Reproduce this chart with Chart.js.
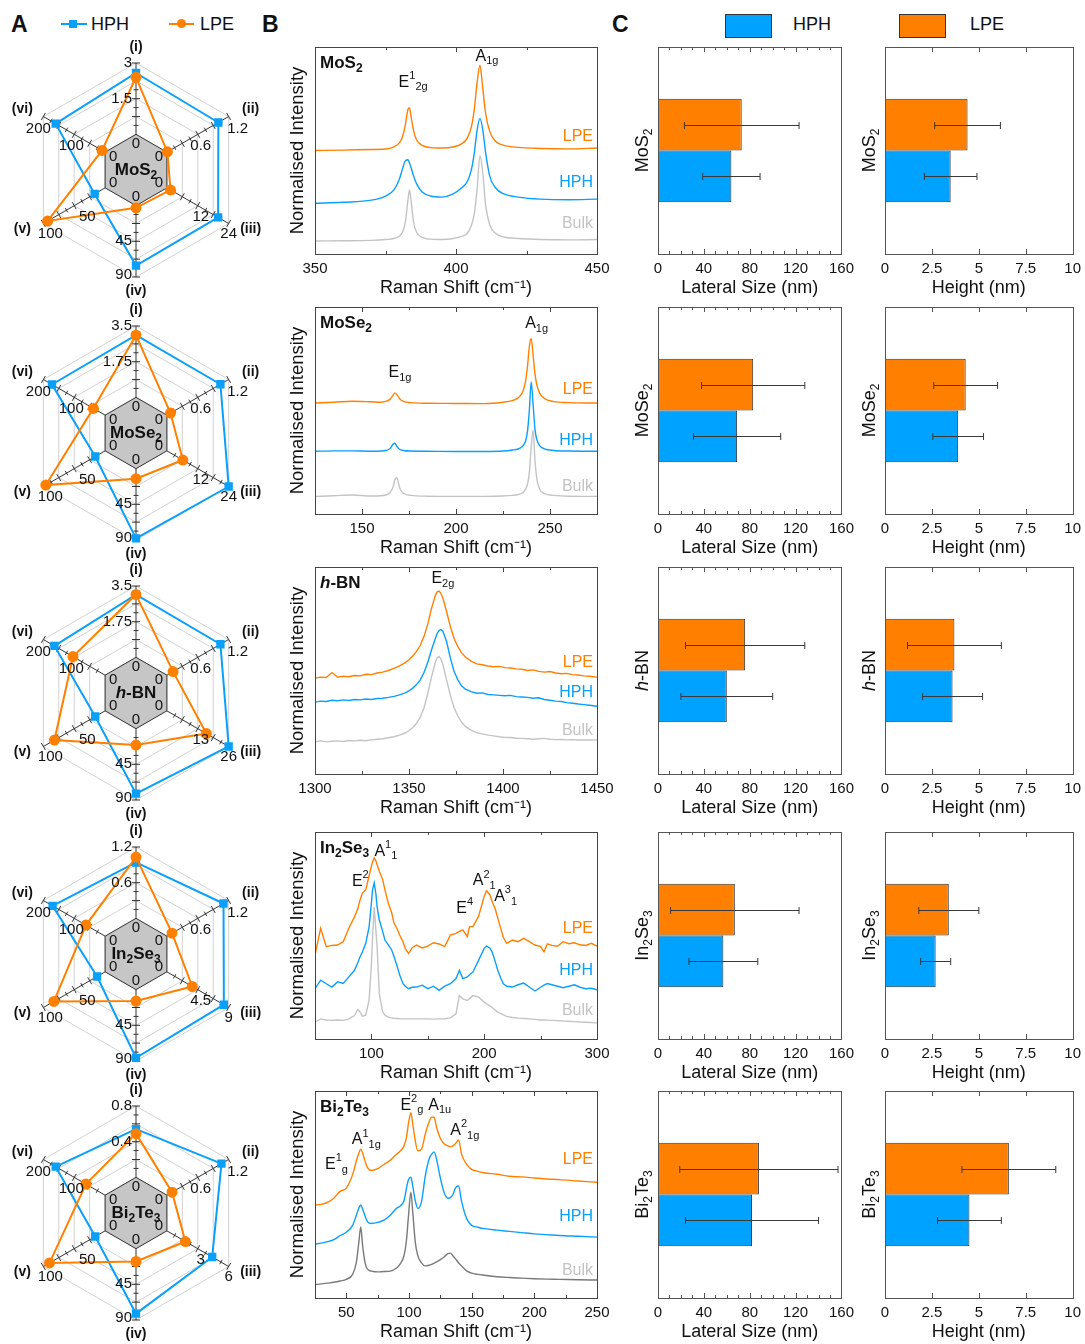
<!DOCTYPE html>
<html>
<head>
<meta charset="utf-8">
<script src="https://cdn.jsdelivr.net/npm/chart.js@4.4.1/dist/chart.umd.min.js"></script>
<style>
  body { margin: 0; background: #fff; width: 1085px; height: 1344px; position: relative; overflow: hidden;
         font-family: "Liberation Sans", Arial, sans-serif; color: #111; }
  canvas { position: absolute; }
  .letter { position: absolute; font-weight: bold; font-size: 23px; line-height: 24px; }
  .leg { position: absolute; font-size: 18px; line-height: 20px; }
  .line { position: absolute; height: 2px; }
  .mark { position: absolute; }
  .swatch { position: absolute; width: 45px; height: 22px; border: 1px solid #333; }
</style>
</head>
<body>
<div class="letter" style="left:11px;top:12px">A</div>
<div class="letter" style="left:262px;top:12px">B</div>
<div class="letter" style="left:612px;top:12px">C</div>

<div class="line" style="left:61px;top:23px;width:26px;background:#0aa0fa"></div>
<div class="mark" style="left:69px;top:20px;width:8px;height:8px;background:#0aa0fa"></div>
<div class="leg" style="left:91px;top:14px">HPH</div>
<div class="line" style="left:169px;top:23px;width:25px;background:#ff8000"></div>
<div class="mark" style="left:177px;top:19px;width:9px;height:9px;border-radius:50%;background:#ff8000"></div>
<div class="leg" style="left:200px;top:14px">LPE</div>

<div class="swatch" style="left:725px;top:14px;background:#00a2ff"></div>
<div class="leg" style="left:793px;top:14px">HPH</div>
<div class="swatch" style="left:899px;top:14px;background:#ff8000"></div>
<div class="leg" style="left:970px;top:14px">LPE</div>

<script>
// ---- panel A: radar values (raw units, axis maxima per row) ----
const radarAxes = ['(i)', '(ii)', '(iii)', '(iv)', '(v)', '(vi)']
const mos2RadarMax = [3, 1.2, 24, 90, 100, 200]
const mos2RadarHph = [2.58, 1.0, 19.9, 75.6, 17, 160]
const mos2RadarLpe = [2.4, 0.01, 1.4, 2.7, 93, 10]
const mose2RadarMax = [3.5, 1.2, 24, 90, 100, 200]
const mose2RadarHph = [3.05, 1.04, 24, 88, 16, 172]
const mose2RadarLpe = [3.05, 0.07, 6.2, 12.6, 96, 38]
const hbnRadarMax = [3.5, 1.2, 26, 90, 100, 200]
const hbnRadarHph = [3.08, 1.04, 26, 82, 16, 164]
const hbnRadarLpe = [3.08, 0.12, 16.6, 20.7, 82, 104]
const in2se3RadarMax = [1.2, 1.2, 9, 90, 100, 200]
const in2se3RadarHph = [0.94, 1.1, 8.3, 86, 13, 170]
const in2se3RadarLpe = [1.03, 0.1, 3.7, 14.4, 83, 62]
const bi2te3RadarMax = [0.8, 1.2, 6, 90, 100, 200]
const bi2te3RadarHph = [0.54, 1.06, 4.4, 82, 16, 160]
const bi2te3RadarLpe = [0.49, 0.1, 1.8, 16.2, 90, 62]

// ---- panel B: Raman spectra (normalised, offset) ----
const mos2Shift = [350, 360, 370, 375, 378, 380, 381, 382, 383, 383.5, 384, 385, 386, 388, 391, 395, 399, 402, 404, 405.5, 406.5, 407.5, 408.5, 409.5, 410.5, 412, 414, 417, 422, 430, 440, 450]
const mos2Lpe = [0.50, 0.502, 0.505, 0.507, 0.518, 0.538, 0.565, 0.62, 0.70, 0.705, 0.67, 0.594, 0.552, 0.525, 0.514, 0.512, 0.517, 0.532, 0.56, 0.617, 0.70, 0.83, 0.912, 0.80, 0.68, 0.59, 0.545, 0.525, 0.515, 0.51, 0.508, 0.512]
const mos2Hph = [0.245, 0.25, 0.26, 0.28, 0.31, 0.365, 0.41, 0.45, 0.455, 0.44, 0.42, 0.375, 0.34, 0.30, 0.28, 0.275, 0.29, 0.32, 0.35, 0.41, 0.49, 0.60, 0.655, 0.60, 0.49, 0.375, 0.32, 0.29, 0.275, 0.265, 0.262, 0.265]
const mos2Bulk = [0.063, 0.064, 0.066, 0.07, 0.075, 0.087, 0.105, 0.15, 0.265, 0.31, 0.265, 0.15, 0.105, 0.08, 0.072, 0.07, 0.075, 0.085, 0.10, 0.14, 0.195, 0.315, 0.475, 0.39, 0.235, 0.14, 0.10, 0.082, 0.075, 0.07, 0.068, 0.07]
const mos2Ticks = [350, 400, 450]

const mose2Shift = [125, 135, 145, 155, 160, 163, 165, 166.5, 167.5, 168.5, 170, 172, 176, 185, 200, 215, 225, 230, 233, 235.5, 237, 238, 239, 240, 241, 242, 243, 244.5, 247, 252, 260, 275]
const mose2Lpe = [0.536, 0.54, 0.545, 0.542, 0.54, 0.545, 0.555, 0.573, 0.585, 0.578, 0.557, 0.544, 0.538, 0.535, 0.534, 0.533, 0.54, 0.548, 0.56, 0.59, 0.642, 0.71, 0.808, 0.848, 0.768, 0.678, 0.624, 0.584, 0.558, 0.543, 0.538, 0.536]
const mose2Hph = [0.303, 0.305, 0.305, 0.303, 0.304, 0.307, 0.317, 0.337, 0.342, 0.327, 0.313, 0.307, 0.304, 0.303, 0.302, 0.302, 0.304, 0.309, 0.314, 0.328, 0.353, 0.397, 0.50, 0.638, 0.531, 0.41, 0.359, 0.33, 0.315, 0.307, 0.304, 0.303]
const mose2Bulk = [0.085, 0.088, 0.092, 0.087, 0.088, 0.093, 0.104, 0.13, 0.165, 0.177, 0.127, 0.10, 0.09, 0.086, 0.085, 0.085, 0.087, 0.09, 0.094, 0.103, 0.12, 0.143, 0.198, 0.323, 0.405, 0.262, 0.17, 0.12, 0.098, 0.09, 0.086, 0.085]
const mose2Ticks = [150, 200, 250]

const hbnShift = [1300, 1303, 1306, 1309, 1312, 1315, 1318, 1321, 1324, 1327, 1330, 1333, 1336, 1339, 1342, 1345, 1348, 1350, 1352, 1354, 1356, 1358, 1360, 1362, 1364, 1365, 1366, 1367, 1368, 1370, 1372, 1374, 1376, 1378, 1380, 1383, 1386, 1389, 1392, 1395, 1398, 1401, 1404, 1407, 1410, 1413, 1416, 1419, 1422, 1425, 1428, 1431, 1434, 1437, 1440, 1443, 1446, 1450]
const hbnLpe = [0.463, 0.468, 0.466, 0.49, 0.468, 0.472, 0.470, 0.476, 0.474, 0.482, 0.480, 0.488, 0.492, 0.500, 0.510, 0.522, 0.538, 0.552, 0.570, 0.592, 0.622, 0.665, 0.725, 0.800, 0.862, 0.880, 0.884, 0.872, 0.850, 0.785, 0.712, 0.655, 0.615, 0.585, 0.565, 0.545, 0.532, 0.528, 0.522, 0.518, 0.520, 0.514, 0.512, 0.508, 0.506, 0.500, 0.503, 0.496, 0.492, 0.495, 0.488, 0.484, 0.486, 0.480, 0.478, 0.474, 0.472, 0.468]
const hbnHph = [0.347, 0.352, 0.350, 0.356, 0.354, 0.358, 0.355, 0.360, 0.358, 0.362, 0.360, 0.365, 0.366, 0.370, 0.375, 0.382, 0.392, 0.402, 0.415, 0.432, 0.455, 0.490, 0.540, 0.600, 0.655, 0.680, 0.694, 0.698, 0.690, 0.640, 0.560, 0.495, 0.455, 0.425, 0.410, 0.398, 0.390, 0.392, 0.384, 0.382, 0.380, 0.378, 0.380, 0.374, 0.372, 0.370, 0.366, 0.368, 0.360, 0.356, 0.352, 0.350, 0.345, 0.342, 0.338, 0.335, 0.332, 0.327]
const hbnBulk = [0.156, 0.160, 0.155, 0.158, 0.160, 0.157, 0.162, 0.160, 0.163, 0.161, 0.165, 0.168, 0.170, 0.175, 0.180, 0.188, 0.198, 0.210, 0.225, 0.245, 0.275, 0.320, 0.390, 0.470, 0.540, 0.562, 0.568, 0.555, 0.530, 0.455, 0.380, 0.320, 0.280, 0.250, 0.230, 0.212, 0.200, 0.194, 0.188, 0.184, 0.180, 0.177, 0.176, 0.173, 0.172, 0.170, 0.168, 0.170, 0.172, 0.168, 0.166, 0.167, 0.165, 0.166, 0.164, 0.165, 0.164, 0.165]
const hbnTicks = [1300, 1350, 1400, 1450]

const in2se3Shift = [50, 55, 60, 65, 70, 75, 80, 85, 88, 90, 92, 95, 98, 100, 101, 102.5, 104, 105, 107, 110, 112, 115, 118, 120, 123, 125, 128, 130, 133, 136, 140, 145, 150, 155, 160, 165, 170, 175, 178, 181, 185, 187, 190, 195, 200, 202, 205, 207, 210, 212, 215, 217, 220, 225, 230, 235, 240, 245, 250, 253, 256, 260, 265, 270, 275, 280, 285, 290, 295, 300]
const in2se3Lpe = [0.405, 0.535, 0.446, 0.452, 0.454, 0.47, 0.535, 0.59, 0.63, 0.673, 0.705, 0.72, 0.79, 0.835, 0.855, 0.875, 0.86, 0.843, 0.81, 0.77, 0.72, 0.656, 0.61, 0.56, 0.53, 0.502, 0.47, 0.438, 0.413, 0.44, 0.454, 0.44, 0.449, 0.465, 0.459, 0.446, 0.502, 0.51, 0.52, 0.527, 0.494, 0.543, 0.543, 0.592, 0.689, 0.716, 0.697, 0.665, 0.624, 0.585, 0.527, 0.49, 0.462, 0.478, 0.47, 0.486, 0.47, 0.454, 0.446, 0.421, 0.46, 0.452, 0.448, 0.47, 0.46, 0.465, 0.455, 0.452, 0.462, 0.449]
const in2se3Hph = [0.243, 0.284, 0.267, 0.251, 0.276, 0.268, 0.30, 0.332, 0.37, 0.397, 0.42, 0.462, 0.543, 0.656, 0.72, 0.754, 0.70, 0.64, 0.575, 0.52, 0.478, 0.455, 0.43, 0.40, 0.348, 0.31, 0.267, 0.255, 0.243, 0.25, 0.251, 0.26, 0.243, 0.255, 0.235, 0.255, 0.267, 0.292, 0.332, 0.292, 0.30, 0.31, 0.324, 0.38, 0.438, 0.449, 0.44, 0.421, 0.37, 0.332, 0.29, 0.267, 0.255, 0.251, 0.262, 0.27, 0.251, 0.232, 0.25, 0.26, 0.268, 0.262, 0.255, 0.248, 0.255, 0.262, 0.25, 0.243, 0.245, 0.238]
const in2se3Bulk = [0.081, 0.097, 0.092, 0.09, 0.092, 0.09, 0.097, 0.113, 0.143, 0.13, 0.11, 0.115, 0.19, 0.36, 0.494, 0.637, 0.52, 0.454, 0.219, 0.13, 0.115, 0.105, 0.102, 0.10, 0.099, 0.098, 0.097, 0.097, 0.097, 0.097, 0.097, 0.097, 0.097, 0.096, 0.097, 0.098, 0.102, 0.122, 0.21, 0.194, 0.186, 0.195, 0.21, 0.203, 0.178, 0.17, 0.16, 0.152, 0.138, 0.13, 0.122, 0.116, 0.109, 0.104, 0.101, 0.099, 0.097, 0.095, 0.092, 0.092, 0.091, 0.09, 0.089, 0.087, 0.086, 0.084, 0.082, 0.081, 0.08, 0.078]
const in2se3Ticks = [100, 200, 300]

const bi2te3Shift = [25, 30, 35, 40, 45, 50, 55, 58, 60, 61.5, 63, 65, 67, 70, 75, 80, 85, 90, 93, 96, 98, 99.5, 101.5, 103, 105, 107, 110, 113, 116, 118, 120, 122, 125, 128, 131, 133, 135, 137, 139.5, 142, 146, 150, 155, 160, 170, 180, 190, 200, 210, 220, 235, 250]
const bi2te3Lpe = [0.449, 0.452, 0.462, 0.482, 0.515, 0.531, 0.596, 0.662, 0.70, 0.719, 0.70, 0.66, 0.629, 0.616, 0.625, 0.645, 0.665, 0.694, 0.71, 0.735, 0.776, 0.84, 0.895, 0.84, 0.76, 0.711, 0.719, 0.792, 0.85, 0.874, 0.873, 0.825, 0.772, 0.745, 0.735, 0.73, 0.735, 0.745, 0.763, 0.694, 0.645, 0.621, 0.612, 0.605, 0.598, 0.588, 0.585, 0.58, 0.575, 0.572, 0.565, 0.559]
const bi2te3Hph = [0.261, 0.265, 0.272, 0.282, 0.302, 0.318, 0.351, 0.40, 0.435, 0.449, 0.43, 0.395, 0.368, 0.36, 0.365, 0.376, 0.40, 0.433, 0.445, 0.47, 0.531, 0.57, 0.583, 0.54, 0.47, 0.433, 0.466, 0.59, 0.67, 0.694, 0.706, 0.67, 0.58, 0.51, 0.482, 0.485, 0.50, 0.531, 0.542, 0.466, 0.384, 0.351, 0.342, 0.335, 0.328, 0.322, 0.316, 0.31, 0.306, 0.302, 0.298, 0.294]
const bi2te3Bulk = [0.065, 0.068, 0.072, 0.076, 0.082, 0.09, 0.114, 0.172, 0.27, 0.343, 0.253, 0.17, 0.138, 0.13, 0.126, 0.128, 0.13, 0.145, 0.165, 0.204, 0.28, 0.39, 0.511, 0.415, 0.27, 0.205, 0.17, 0.155, 0.158, 0.162, 0.168, 0.174, 0.185, 0.198, 0.214, 0.217, 0.204, 0.19, 0.17, 0.155, 0.131, 0.12, 0.114, 0.11, 0.103, 0.099, 0.096, 0.093, 0.091, 0.09, 0.088, 0.087]
const bi2te3Ticks = [50, 100, 150, 200, 250]

// ---- panel C: flake dimensions (mean and spread) ----
const materials = ['MoS_{2}', 'MoSe_{2}', '~{h}-BN', 'In_{2}Se_{3}', 'Bi_{2}Te_{3}']
const lateralHph = [64, 69, 60, 57, 82]
const lateralHphErr = [25, 38, 40, 30, 58]
const lateralLpe = [73, 83, 76, 67, 88]
const lateralLpeErr = [50, 45, 52, 56, 69]
const heightHph = [3.5, 3.9, 3.6, 2.7, 4.5]
const heightHphErr = [1.4, 1.35, 1.6, 0.8, 1.7]
const heightLpe = [4.4, 4.3, 3.7, 3.4, 6.6]
const heightLpeErr = [1.75, 1.7, 2.5, 1.6, 2.5]
const lateralTicks = [0, 40, 80, 120, 160]
const heightTicks = [0, 2.5, 5, 7.5, 10]

const FONT = '"Liberation Sans", Arial, sans-serif'
const BLUE = '#0aa0fa', BAR_BLUE = '#00a2ff', ORANGE = '#ff8000', GREY = '#c4c4c4'
Chart.defaults.font.family = FONT
Chart.defaults.color = '#111'
Chart.defaults.animation = false

const rowTops = [47, 307, 567, 832, 1091]
const plotH = 206
const radarCy = [170, 433, 693, 954, 1213]

function canvasAt(left, top, w, h) {
  const c = document.createElement('canvas')
  c.width = w; c.height = h
  c.style.left = left + 'px'; c.style.top = top + 'px'
  document.body.appendChild(c)
  return c
}

// tiny markup: _{sub} ^{sup} ~{italic}
function parseRich(str) {
  const parts = [], re = /([_^~])\{([^}]*)\}|([^_^~]+)/g
  let m
  while ((m = re.exec(str))) {
    if (m[3]) parts.push({ t: m[3], mode: 'n' })
    else parts.push({ t: m[2], mode: m[1] === '_' ? 'sub' : m[1] === '^' ? 'sup' : 'i' })
  }
  return parts
}

function drawRich(ctx, str, x, y, o) {
  const size = o.size || 16, weight = o.bold ? 'bold ' : ''
  const parts = parseRich(str)
  const fontOf = p => (p.mode === 'i' ? 'italic ' : '') + weight +
    (p.mode === 'sub' || p.mode === 'sup' ? Math.round(size * 0.68) : size) + 'px ' + FONT
  let w = 0
  parts.forEach(p => { ctx.font = fontOf(p); p.w = ctx.measureText(p.t).width; w += p.w })
  let cx = o.align === 'center' ? x - w / 2 : o.align === 'right' ? x - w : x
  ctx.save()
  ctx.fillStyle = o.color || '#111'
  ctx.textBaseline = 'middle'
  ctx.textAlign = 'left'
  parts.forEach(p => {
    ctx.font = fontOf(p)
    const dy = p.mode === 'sub' ? size * 0.32 : p.mode === 'sup' ? -size * 0.38 : 0
    ctx.fillText(p.t, cx, y + dy)
    cx += p.w
  })
  ctx.restore()
}

// ---------- A: radar ----------
const halfPos = [[-4, 0, 'right'], [3, 12, 'center'], [3, 11, 'center'], [-4, 0, 'right'], [13, 11, 'center'], [-3, 12, 'center']]
const maxPos = [[-4, 0, 'right'], [9, 12, 'center'], [0, 10, 'center'], [-4, -2, 'right'], [7, 10, 'center'], [-5, 12, 'center']]
const namePos = [[0, -16], [22, -7], [22, 6], [0, 14], [-21, 6], [-21, -7]]

function radarDeco(name, max) {
  return {
    id: 'radarDeco',
    beforeDatasetsDraw(chart) {
      const r = chart.scales.r, ctx = chart.ctx
      ctx.save()
      ctx.strokeStyle = '#333'
      ctx.lineWidth = 1
      ctx.beginPath()
      for (let i = 0; i < radarAxes.length; i++) {
        const a = r.getIndexAngle(i), px = Math.cos(a), py = Math.sin(a)
        ;[0.125, 0.25, 0.375, 0.5, 0.625, 0.75, 0.875, 1].forEach(v => {
          const p = r.getPointPositionForValue(i, v), len = v % 0.25 === 0 ? 4 : 2.5
          ctx.moveTo(p.x - px * len, p.y - py * len)
          ctx.lineTo(p.x + px * len, p.y + py * len)
        })
      }
      ctx.stroke()
      ctx.restore()
    },
    afterDatasetsDraw(chart) {
      const r = chart.scales.r, ctx = chart.ctx
      ctx.save()
      ctx.textBaseline = 'middle'
      for (let i = 0; i < radarAxes.length; i++) {
        ctx.font = '15px ' + FONT
        ctx.fillStyle = '#111'
        const z = r.getPointPositionForValue(i, -0.13)
        ctx.textAlign = 'center'
        ctx.fillText('0', z.x, z.y)
        const h = r.getPointPositionForValue(i, 0.5), hp = halfPos[i]
        ctx.textAlign = hp[2]
        ctx.fillText(String(max[i] / 2), h.x + hp[0], h.y + hp[1])
        const e = r.getPointPositionForValue(i, 1), mp = maxPos[i]
        ctx.textAlign = mp[2]
        ctx.fillText(String(max[i]), e.x + mp[0], e.y + mp[1])
        ctx.font = 'bold 14px ' + FONT
        ctx.textAlign = 'center'
        ctx.fillText(radarAxes[i], e.x + namePos[i][0], e.y + namePos[i][1])
      }
      ctx.restore()
      drawRich(ctx, name, r.xCenter, r.yCenter, { size: 17, bold: true, align: 'center' })
    }
  }
}

function radarChart(row, max, hph, lpe) {
  const el = canvasAt(0, radarCy[row] - 136, 272, 272)
  new Chart(el, {
    type: 'radar',
    data: {
      labels: radarAxes,
      datasets: [
        { data: hph.map((v, i) => v / max[i]), borderColor: BLUE, backgroundColor: BLUE, borderWidth: 2,
          pointStyle: 'rect', pointRadius: 4.5, fill: false, order: 2 },
        { data: lpe.map((v, i) => v / max[i]), borderColor: ORANGE, backgroundColor: ORANGE, borderWidth: 2,
          pointStyle: 'circle', pointRadius: 4.5, fill: false, order: 1 },
        { data: radarAxes.map(() => 0), borderColor: '#333', borderWidth: 1, backgroundColor: '#c6c6c6',
          pointRadius: 0, fill: 'start', order: 3 }
      ]
    },
    options: {
      responsive: false,
      layout: { padding: 29 },
      plugins: { legend: { display: false }, tooltip: { enabled: false } },
      scales: {
        r: {
          min: -0.5, max: 1,
          ticks: { display: false, stepSize: 0.25 },
          grid: { color: '#d2d2d2' },
          angleLines: { color: '#333' },
          pointLabels: { display: false }
        }
      }
    },
    plugins: [radarDeco(materials[row], max)]
  })
}

// ---------- B: Raman ----------
function ramanDeco(p) {
  return {
    id: 'ramanDeco',
    afterDatasetsDraw(chart) {
      const { ctx, chartArea: a, scales: { x, y } } = chart
      ctx.save()
      ctx.strokeStyle = '#444'
      ctx.lineWidth = 1
      ctx.strokeRect(Math.round(a.left) + 0.5, Math.round(a.top) + 0.5, Math.round(a.width), Math.round(a.height))
      const step = p.ticks[1] - p.ticks[0]
      ctx.beginPath()
      for (let v = p.ticks[0] - step; v <= p.max; v += step / 2) {
        if (v < p.min || v > p.max) continue
        const px = Math.round(x.getPixelForValue(v)) + 0.5
        const len = Math.abs((v - p.ticks[0]) % step) < 1e-6 ? 5 : 3
        ctx.moveTo(px, a.bottom); ctx.lineTo(px, a.bottom - len)
        ctx.moveTo(px, a.top); ctx.lineTo(px, a.top + len)
      }
      ctx.stroke()
      ctx.restore()
      drawRich(ctx, p.name, a.left + 5, a.top + 16, { size: 17, bold: true })
      p.peaks.forEach(k => drawRich(ctx, k[0], x.getPixelForValue(k[1]), y.getPixelForValue(k[2]), { size: 16, align: 'center' }))
      const labs = [['LPE', ORANGE], ['HPH', BLUE], ['Bulk', GREY]]
      labs.forEach((l, i) => drawRich(ctx, l[0], a.right - 4, y.getPixelForValue(p.labelY[i]), { size: 16, align: 'right', color: l[1] }))
    }
  }
}

function ramanChart(row, p) {
  const el = canvasAt(270, rowTops[row] - 8, 352, 8 + plotH + 48)
  const ds = (arr, color) => ({
    data: p.shift.map((v, i) => ({ x: v, y: arr[i] })),
    borderColor: color, borderWidth: 1.4, pointRadius: 0, fill: false,
    tension: 0, cubicInterpolationMode: p.smooth ? 'monotone' : 'default'
  })
  new Chart(el, {
    type: 'line',
    data: { datasets: [ds(p.bulk, p.bulkColor), ds(p.hph, BLUE), ds(p.lpe, ORANGE)] },
    options: {
      responsive: false,
      layout: { padding: { left: 15, right: 25, top: 8, bottom: 0 } },
      plugins: { legend: { display: false }, tooltip: { enabled: false } },
      scales: {
        x: {
          type: 'linear', min: p.min, max: p.max,
          afterBuildTicks: s => { s.ticks = p.ticks.map(v => ({ value: v })) },
          afterFit: s => { s.height = 47 },
          grid: { display: false, drawTicks: false }, border: { display: false },
          ticks: { font: { size: 15 }, padding: 6, color: '#111', callback: v => String(v) },
          title: { display: true, text: 'Raman Shift (cm⁻¹)', font: { size: 18 }, color: '#111', padding: { top: 0, bottom: 2 } }
        },
        y: {
          min: 0, max: 1,
          afterFit: s => { s.width = 30 },
          ticks: { display: false }, grid: { display: false, drawTicks: false }, border: { display: false },
          title: { display: true, text: 'Normalised Intensity', font: { size: 18.5 }, color: '#111', padding: { top: 2, bottom: 0 } }
        }
      }
    },
    plugins: [ramanDeco(p)]
  })
}

// ---------- C: bars ----------
function barDeco(name, ticks, minorStep, errs) {
  return {
    id: 'barDeco',
    afterDatasetsDraw(chart) {
      const { ctx, chartArea: a, scales: { x } } = chart
      ctx.save()
      ctx.strokeStyle = '#555'
      ctx.lineWidth = 1
      ctx.strokeRect(Math.round(a.left) + 0.5, Math.round(a.top) + 0.5, Math.round(a.width), Math.round(a.height))
      ctx.beginPath()
      const top = ticks[ticks.length - 1]
      for (let v = minorStep; v < top - 1e-6; v += minorStep) {
        const px = Math.round(x.getPixelForValue(v)) + 0.5
        const len = ticks.some(t => Math.abs(t - v) < 1e-6) ? 5 : 3
        ctx.moveTo(px, a.bottom); ctx.lineTo(px, a.bottom - len)
        ctx.moveTo(px, a.top); ctx.lineTo(px, a.top + len)
      }
      ctx.stroke()
      ctx.strokeStyle = '#3a3a3a'
      ctx.beginPath()
      chart.data.datasets.forEach((d, i) => {
        const bar = chart.getDatasetMeta(i).data[0]
        const v = d.data[0], e = errs[i]
        const x0 = x.getPixelForValue(v - e), x1 = x.getPixelForValue(v + e), yy = Math.round(bar.y) + 0.5
        ctx.moveTo(x0, yy); ctx.lineTo(x1, yy)
        ctx.moveTo(x0, yy - 3.5); ctx.lineTo(x0, yy + 3.5)
        ctx.moveTo(x1, yy - 3.5); ctx.lineTo(x1, yy + 3.5)
      })
      ctx.stroke()
      ctx.restore()
      ctx.save()
      ctx.translate(a.left - 15, a.top + a.height / 2)
      ctx.rotate(-Math.PI / 2)
      drawRich(ctx, name, 0, 0, { size: 18, align: 'center' })
      ctx.restore()
    }
  }
}

function barChart(left, leftPad, row, hph, hphErr, lpe, lpeErr, ticks, minorStep, title) {
  const el = canvasAt(left, rowTops[row] - 8, leftPad + 188 + 14, 8 + plotH + 48)
  new Chart(el, {
    type: 'bar',
    data: {
      labels: [materials[row]],
      datasets: [
        { data: [lpe], backgroundColor: ORANGE, borderColor: '#333', borderWidth: 1, borderSkipped: false },
        { data: [hph], backgroundColor: BAR_BLUE, borderColor: '#333', borderWidth: 1, borderSkipped: false }
      ]
    },
    options: {
      indexAxis: 'y',
      responsive: false,
      layout: { padding: { left: leftPad, right: 14, top: 8, bottom: 0 } },
      datasets: { bar: { categoryPercentage: 0.5, barPercentage: 1 } },
      plugins: { legend: { display: false }, tooltip: { enabled: false } },
      scales: {
        x: {
          min: 0, max: ticks[ticks.length - 1],
          afterBuildTicks: s => { s.ticks = ticks.map(v => ({ value: v })) },
          afterFit: s => { s.height = 47 },
          grid: { display: false, drawTicks: false }, border: { display: false },
          ticks: { font: { size: 15 }, padding: 6, color: '#111', callback: v => String(v) },
          title: { display: true, text: title, font: { size: 18 }, color: '#111', padding: { top: 0, bottom: 2 } }
        },
        y: { display: false }
      }
    },
    plugins: [barDeco(materials[row], ticks, minorStep, [lpeErr, hphErr])]
  })
}

// ---------- build ----------
radarChart(0, mos2RadarMax, mos2RadarHph, mos2RadarLpe)
radarChart(1, mose2RadarMax, mose2RadarHph, mose2RadarLpe)
radarChart(2, hbnRadarMax, hbnRadarHph, hbnRadarLpe)
radarChart(3, in2se3RadarMax, in2se3RadarHph, in2se3RadarLpe)
radarChart(4, bi2te3RadarMax, bi2te3RadarHph, bi2te3RadarLpe)

ramanChart(0, { name: materials[0], shift: mos2Shift, lpe: mos2Lpe, hph: mos2Hph, bulk: mos2Bulk, bulkColor: GREY,
  min: 350, max: 450, ticks: mos2Ticks, smooth: true, labelY: [0.565, 0.343, 0.145],
  peaks: [['E^{1}_{2g}', 384.8, 0.83], ['A_{1g}', 411, 0.955]] })
ramanChart(1, { name: materials[1], shift: mose2Shift, lpe: mose2Lpe, hph: mose2Hph, bulk: mose2Bulk, bulkColor: GREY,
  min: 125, max: 275, ticks: mose2Ticks, smooth: true, labelY: [0.6, 0.355, 0.134],
  peaks: [['E_{1g}', 170.2, 0.684], ['A_{1g}', 242.9, 0.919]] })
ramanChart(2, { name: materials[2], shift: hbnShift, lpe: hbnLpe, hph: hbnHph, bulk: hbnBulk, bulkColor: GREY,
  min: 1300, max: 1450, ticks: hbnTicks, smooth: false, labelY: [0.54, 0.395, 0.21],
  peaks: [['E_{2g}', 1368, 0.943]] })
ramanChart(3, { name: materials[3], shift: in2se3Shift, lpe: in2se3Lpe, hph: in2se3Hph, bulk: in2se3Bulk, bulkColor: GREY,
  min: 50, max: 300, ticks: in2se3Ticks, smooth: false, labelY: [0.535, 0.332, 0.135],
  peaks: [['E^{2}', 90.2, 0.762], ['A^{1}_{1}', 112.8, 0.907], ['E^{4}', 182.7, 0.632], ['A^{2}_{1}', 200, 0.765], ['A^{3}_{1}', 219, 0.689]] })
ramanChart(4, { name: materials[4], shift: bi2te3Shift, lpe: bi2te3Lpe, hph: bi2te3Hph, bulk: bi2te3Bulk, bulkColor: '#7a7a7a',
  min: 25, max: 250, ticks: bi2te3Ticks, smooth: true, labelY: [0.67, 0.395, 0.13],
  peaks: [['E^{1}_{g}', 42.1, 0.645], ['A^{1}_{1g}', 65.9, 0.763], ['E^{2}_{g}', 102.3, 0.931], ['A_{1u}', 124.5, 0.931], ['A^{2}_{1g}', 144.5, 0.809]] })

for (let i = 0; i < materials.length; i++) {
  barChart(618, 40, i, lateralHph[i], lateralHphErr[i], lateralLpe[i], lateralLpeErr[i], lateralTicks, 10, 'Lateral Size (nm)')
  barChart(855, 30, i, heightHph[i], heightHphErr[i], heightLpe[i], heightLpeErr[i], heightTicks, 2.5, 'Height (nm)')
}
</script>
</body>
</html>
